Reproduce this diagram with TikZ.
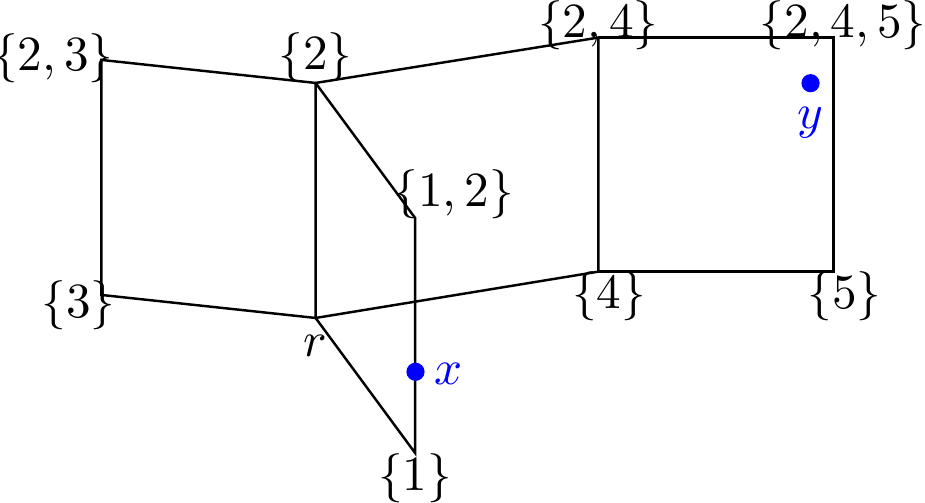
\documentclass[tikz,border=0pt]{standalone}
\usetikzlibrary{positioning}
\begin{document}
\begin{tikzpicture}[x=1.68cm, y=1.68cm, line width=0.5pt,
    lbl/.style={inner sep=0pt, text height=7.5pt, text depth=2.5pt},
    pt/.style={circle, fill=blue, inner sep=0pt, minimum size=3.7pt}]
        \useasboundingbox (-1.343,-0.787) rectangle (2.593,1.353);

        % vertices of the complex
        \coordinate (r) at (0,0);
        \coordinate (v2) at (0,1);
        \coordinate (v3) at (-0.912,0.098);
        \coordinate (v23) at (-0.912,1.098);
        \coordinate (v1) at (0.423,-0.574);
        \coordinate (v12) at (0.423,0.426);
        \coordinate (v4) at (1.203,0.197);
        \coordinate (v24) at (1.203,1.193);
        \coordinate (v5) at (2.203,0.197);
        \coordinate (v245) at (2.203,1.193);

        \draw (v23) -- (v2) -- (r) -- (v3) -- cycle;
        \draw (v2) -- (v12) -- (v1) -- (r);
        \draw (v2) -- (v24) -- (v4) -- (r);
        \draw (v24) -- (v245) -- (v5) -- (v4);

        % labels
        \node[lbl] (l23) at ([shift={(-9.8pt,0.4pt)}]v23) {$\{2,3\}$};
        \node[lbl, above=0pt of v2] (l2) {$\{2\}$};
        \node[lbl] (l3) at ([shift={(-4.6pt,-2pt)}]v3) {$\{3\}$};
        \node[lbl] (l12) at ([shift={(7.9pt,4.9pt)}]v12) {$\{1,2\}$};
        \node[lbl, below=0pt of v1] (l1) {$\{1\}$};
        \node[lbl, below=0pt of r] (lr) {$r$};
        \node[lbl] (l24) at ([shift={(0pt,2.6pt)}]v24) {$\{2,4\}$};
        \node[lbl] (l245) at ([shift={(2pt,2.6pt)}]v245) {$\{2,4,5\}$};
        \node[lbl] (l4) at ([shift={(2.2pt,-4.9pt)}]v4) {$\{4\}$};
        \node[lbl] (l5) at ([shift={(2.3pt,-5pt)}]v5) {$\{5\}$};

        % the two points
        \node[pt] (x) at (0.425,-0.229) {};
        \node[lbl, text=blue, right=1.6pt of x] (lx) {$x$};
        \node[pt] (y) at (2.106,0.999) {};
        \node[lbl, text=blue, below=-0.7pt of y] (ly) {$y$};

    \end{tikzpicture}
\end{document}
